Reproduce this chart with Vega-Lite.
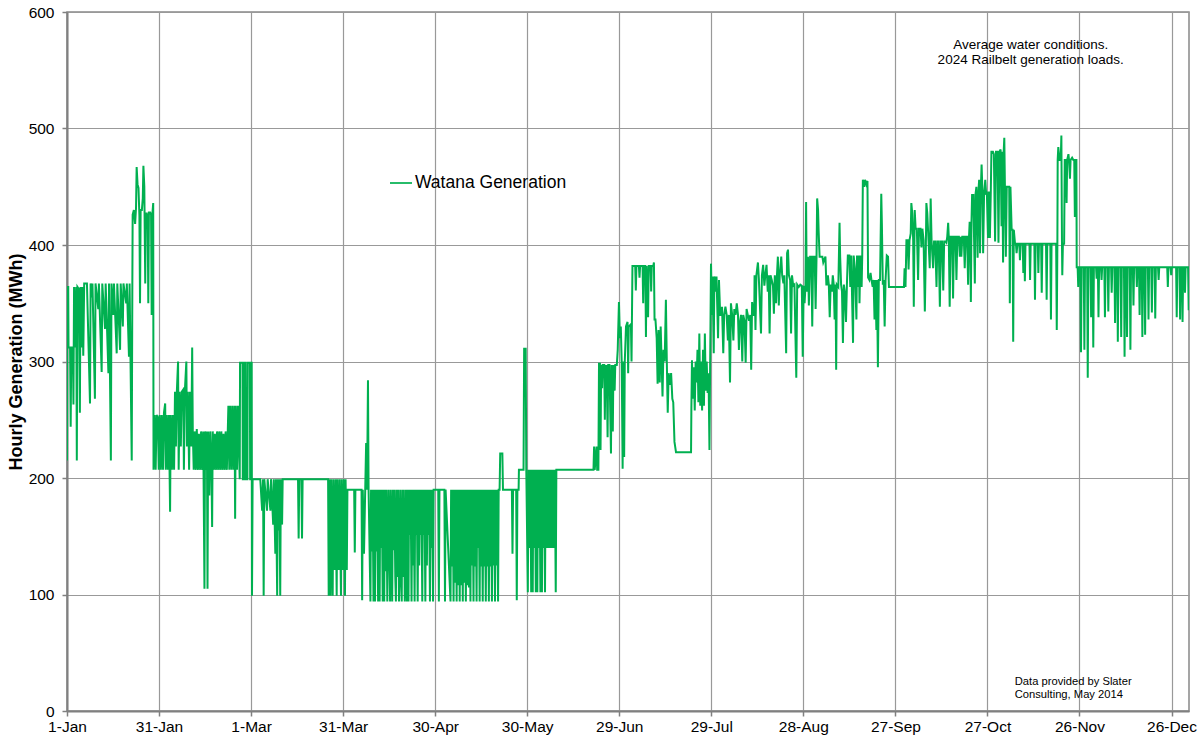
{
  "$schema": "https://vega.github.io/schema/vega-lite/v6.json",
  "width": 1122,
  "height": 699,
  "autosize": {"type": "none"},
  "padding": {"left": 67, "top": 12, "right": 15, "bottom": 33},
  "background": "white",
  "config": {"font": "Liberation Sans", "view": {"stroke": "#888888", "strokeWidth": 1.5}},
  "layer": [
    {
      "data": {"values": [
{"day":0,"mwh":215},{"day":0.1,"mwh":364},{"day":0.4,"mwh":364},{"day":0.5,"mwh":312},{"day":1.0,"mwh":312},{"day":1.2,"mwh":244},{"day":1.4,"mwh":312},{"day":1.9,"mwh":312},{"day":2.1,"mwh":263},{"day":2.3,"mwh":364},{"day":2.5,"mwh":312},{"day":3.0,"mwh":364},{"day":3.2,"mwh":215},{"day":3.4,"mwh":364},{"day":3.9,"mwh":362},{"day":4.2,"mwh":256},{"day":4.4,"mwh":364},{"day":4.8,"mwh":312},{"day":5.0,"mwh":364},{"day":5.3,"mwh":305},{"day":5.6,"mwh":367},
{"day":6.5,"mwh":367},{"day":7.5,"mwh":264},{"day":7.7,"mwh":367},{"day":8.1,"mwh":355},{"day":8.3,"mwh":367},{"day":9.1,"mwh":268},{"day":9.3,"mwh":367},{"day":10.2,"mwh":345},{"day":10.4,"mwh":367},{"day":11.3,"mwh":291},{"day":11.5,"mwh":367},{"day":12.4,"mwh":328},{"day":12.6,"mwh":367},{"day":13.5,"mwh":290},{"day":13.7,"mwh":367},{"day":14.3,"mwh":215},{"day":14.5,"mwh":367},{"day":15.1,"mwh":340},{"day":15.3,"mwh":367},{"day":16.2,"mwh":307},{"day":16.4,"mwh":367},{"day":17.3,"mwh":310},{"day":17.5,"mwh":367},{"day":18.2,"mwh":330},{"day":18.4,"mwh":367},{"day":19.3,"mwh":350},{"day":19.5,"mwh":367},{"day":20.2,"mwh":304},{"day":20.4,"mwh":367},{"day":21.1,"mwh":215},{"day":21.3,"mwh":367},
{"day":21.4,"mwh":426},{"day":21.8,"mwh":430},{"day":22.2,"mwh":418},{"day":22.5,"mwh":432},{"day":22.7,"mwh":467},{"day":23.0,"mwh":452},{"day":23.3,"mwh":449},{"day":23.6,"mwh":425},{"day":23.8,"mwh":350},{"day":24.0,"mwh":430},{"day":24.4,"mwh":430},{"day":24.7,"mwh":440},{"day":24.9,"mwh":468},{"day":25.2,"mwh":450},{"day":25.5,"mwh":367},{"day":25.7,"mwh":427},{"day":26.0,"mwh":427},{"day":26.3,"mwh":420},{"day":26.5,"mwh":350},{"day":26.7,"mwh":428},{"day":27.1,"mwh":428},{"day":27.4,"mwh":426},{"day":27.6,"mwh":340},{"day":27.8,"mwh":426},{"day":28.1,"mwh":436},{"day":28.2,"mwh":207},
{"day":28.5,"mwh":254},{"day":28.9,"mwh":207},{"day":29.2,"mwh":254},{"day":29.6,"mwh":252},{"day":29.9,"mwh":207},{"day":30.2,"mwh":254},{"day":30.6,"mwh":207},{"day":30.9,"mwh":254},{"day":31.3,"mwh":207},{"day":31.6,"mwh":256},{"day":32.0,"mwh":264},{"day":32.2,"mwh":207},{"day":32.5,"mwh":254},{"day":32.9,"mwh":207},{"day":33.2,"mwh":254},{"day":33.6,"mwh":171},{"day":33.8,"mwh":254},{"day":34.2,"mwh":207},{"day":34.5,"mwh":254},{"day":34.9,"mwh":207},{"day":35.2,"mwh":274},{"day":35.5,"mwh":227},{"day":35.8,"mwh":274},{"day":36.2,"mwh":300},{"day":36.4,"mwh":207},{"day":36.7,"mwh":274},{"day":37.1,"mwh":227},{"day":37.4,"mwh":274},{"day":37.9,"mwh":276},{"day":38.1,"mwh":207},{"day":38.4,"mwh":274},{"day":38.9,"mwh":300},{"day":39.1,"mwh":227},{"day":39.4,"mwh":274},{"day":39.8,"mwh":207},{"day":40.1,"mwh":274},{"day":40.5,"mwh":227},{"day":40.8,"mwh":312},{"day":41.0,"mwh":240},{"day":41.3,"mwh":207},{"day":41.6,"mwh":240},{"day":42.0,"mwh":207},{"day":42.3,"mwh":242},{"day":42.7,"mwh":207},{"day":43.0,"mwh":238},{"day":43.4,"mwh":207},{"day":43.7,"mwh":240},{"day":44.1,"mwh":207},{"day":44.4,"mwh":240},{"day":44.8,"mwh":105},{"day":45.0,"mwh":240},{"day":45.4,"mwh":207},{"day":45.6,"mwh":240},{"day":45.8,"mwh":105},{"day":46.0,"mwh":240},{"day":46.4,"mwh":185},{"day":46.7,"mwh":240},{"day":47.1,"mwh":207},{"day":47.3,"mwh":158},{"day":47.5,"mwh":240},{"day":47.9,"mwh":207},{"day":48.2,"mwh":238},{"day":48.6,"mwh":207},{"day":48.9,"mwh":240},{"day":49.3,"mwh":207},{"day":49.6,"mwh":240},{"day":50.0,"mwh":207},{"day":50.3,"mwh":240},{"day":50.7,"mwh":207},{"day":51.0,"mwh":238},{"day":51.4,"mwh":207},{"day":51.7,"mwh":240},{"day":52.1,"mwh":207},{"day":52.4,"mwh":240},{"day":52.6,"mwh":262},{"day":52.9,"mwh":207},{"day":53.2,"mwh":262},{"day":53.6,"mwh":207},{"day":53.9,"mwh":262},{"day":54.3,"mwh":207},{"day":54.6,"mwh":262},{"day":54.8,"mwh":165},{"day":55.0,"mwh":262},{"day":55.4,"mwh":207},{"day":55.7,"mwh":262},{"day":56.0,"mwh":230},{"day":56.3,"mwh":199},{"day":56.4,"mwh":299},{"day":57.2,"mwh":299},{"day":57.3,"mwh":199},{"day":57.7,"mwh":199},{"day":57.8,"mwh":299},{"day":58.2,"mwh":299},{"day":58.3,"mwh":199},{"day":58.8,"mwh":199},{"day":58.9,"mwh":299},{"day":59.6,"mwh":299},{"day":59.7,"mwh":199},{"day":60.0,"mwh":199},{"day":60.1,"mwh":299},{"day":60.2,"mwh":299},
{"day":60.3,"mwh":99},{"day":60.5,"mwh":199},{"day":63.0,"mwh":199},{"day":63.6,"mwh":172},{"day":63.9,"mwh":199},{"day":64.1,"mwh":99},{"day":64.3,"mwh":199},{"day":65.2,"mwh":172},{"day":65.4,"mwh":199},{"day":66.3,"mwh":172},{"day":66.5,"mwh":199},{"day":67.0,"mwh":172},{"day":67.2,"mwh":160},{"day":67.4,"mwh":199},{"day":67.9,"mwh":135},{"day":68.1,"mwh":199},{"day":68.5,"mwh":99},{"day":68.7,"mwh":199},{"day":69.0,"mwh":155},{"day":69.2,"mwh":199},{"day":69.5,"mwh":99},{"day":69.7,"mwh":199},{"day":70.1,"mwh":160},{"day":70.3,"mwh":199},{"day":75.3,"mwh":199},{"day":75.5,"mwh":148},{"day":75.7,"mwh":199},{"day":76.4,"mwh":199},{"day":76.6,"mwh":148},{"day":76.8,"mwh":199},{"day":85.1,"mwh":199},{"day":85.3,"mwh":99},{"day":85.5,"mwh":199},{"day":85.9,"mwh":99},{"day":86.1,"mwh":199},{"day":86.6,"mwh":99},{"day":86.8,"mwh":199},{"day":87.3,"mwh":121},{"day":87.5,"mwh":199},{"day":87.9,"mwh":99},{"day":88.1,"mwh":199},{"day":88.6,"mwh":121},{"day":88.8,"mwh":199},{"day":89.3,"mwh":99},{"day":89.5,"mwh":199},{"day":90.0,"mwh":121},{"day":90.2,"mwh":199},{"day":90.6,"mwh":99},{"day":90.8,"mwh":199},{"day":91.2,"mwh":121},{"day":91.4,"mwh":190},
{"day":93.6,"mwh":190},{"day":93.8,"mwh":136},{"day":94.0,"mwh":190},{"day":96.0,"mwh":190},{"day":96.2,"mwh":95},{"day":96.4,"mwh":190},{"day":96.8,"mwh":135},{"day":97.2,"mwh":190},{"day":97.5,"mwh":230},{"day":97.8,"mwh":190},{"day":98.1,"mwh":284},{"day":98.3,"mwh":190},
{"day":98.9,"mwh":94},{"day":99.1,"mwh":190},{"day":99.4,"mwh":137},{"day":99.6,"mwh":190},{"day":99.9,"mwh":94},{"day":100.1,"mwh":190},{"day":100.4,"mwh":94},{"day":100.6,"mwh":190},{"day":100.9,"mwh":137},{"day":101.1,"mwh":190},{"day":101.4,"mwh":94},{"day":101.6,"mwh":190},{"day":101.9,"mwh":94},{"day":102.1,"mwh":190},{"day":102.4,"mwh":140},{"day":102.6,"mwh":190},{"day":102.9,"mwh":94},{"day":103.1,"mwh":190},{"day":103.4,"mwh":94},{"day":103.6,"mwh":190},{"day":103.9,"mwh":120},{"day":104.1,"mwh":190},
{"day":104.4,"mwh":94},{"day":104.6,"mwh":138},{"day":104.8,"mwh":190},{"day":105.1,"mwh":138},{"day":105.3,"mwh":94},{"day":105.5,"mwh":190},{"day":105.8,"mwh":138},{"day":106.0,"mwh":94},{"day":106.2,"mwh":190},{"day":106.5,"mwh":138},{"day":106.7,"mwh":190},{"day":107.0,"mwh":115},{"day":107.2,"mwh":94},{"day":107.4,"mwh":190},{"day":107.7,"mwh":115},{"day":107.9,"mwh":190},{"day":108.2,"mwh":94},{"day":108.4,"mwh":115},{"day":108.6,"mwh":190},{"day":108.9,"mwh":115},{"day":109.1,"mwh":94},{"day":109.3,"mwh":190},{"day":109.6,"mwh":115},{"day":109.8,"mwh":190},{"day":110.1,"mwh":94},{"day":110.3,"mwh":115},{"day":110.5,"mwh":190},{"day":110.8,"mwh":94},{"day":111.0,"mwh":190},
{"day":111.3,"mwh":94},{"day":111.5,"mwh":190},{"day":111.8,"mwh":151},{"day":112.0,"mwh":190},{"day":112.3,"mwh":94},{"day":112.5,"mwh":190},{"day":112.8,"mwh":125},{"day":113.0,"mwh":190},{"day":113.3,"mwh":94},{"day":113.5,"mwh":190},{"day":113.8,"mwh":151},{"day":114.0,"mwh":190},{"day":114.3,"mwh":94},{"day":114.5,"mwh":190},{"day":114.8,"mwh":125},{"day":115.0,"mwh":190},{"day":115.3,"mwh":151},{"day":115.5,"mwh":190},{"day":115.8,"mwh":94},{"day":116.0,"mwh":190},{"day":116.3,"mwh":151},{"day":116.5,"mwh":190},{"day":116.8,"mwh":94},{"day":117.0,"mwh":190},{"day":117.3,"mwh":125},{"day":117.5,"mwh":190},{"day":117.8,"mwh":151},{"day":118.0,"mwh":190},{"day":118.3,"mwh":94},{"day":118.5,"mwh":190},{"day":118.8,"mwh":140},{"day":119.0,"mwh":190},{"day":119.3,"mwh":94},{"day":119.5,"mwh":190},
{"day":121.0,"mwh":190},{"day":121.2,"mwh":94},{"day":121.4,"mwh":190},{"day":123.0,"mwh":190},{"day":123.2,"mwh":94},{"day":123.4,"mwh":190},
{"day":125.0,"mwh":94},{"day":125.2,"mwh":190},{"day":125.5,"mwh":124},{"day":125.7,"mwh":190},{"day":126.0,"mwh":94},{"day":126.2,"mwh":190},{"day":126.5,"mwh":110},{"day":126.7,"mwh":190},{"day":127.0,"mwh":94},{"day":127.2,"mwh":190},{"day":127.5,"mwh":108},{"day":127.7,"mwh":190},{"day":128.0,"mwh":94},{"day":128.2,"mwh":190},{"day":128.5,"mwh":108},{"day":128.7,"mwh":190},{"day":129.0,"mwh":94},{"day":129.2,"mwh":190},{"day":129.5,"mwh":110},{"day":129.7,"mwh":190},{"day":130.0,"mwh":94},{"day":130.2,"mwh":190},{"day":130.5,"mwh":108},{"day":130.7,"mwh":190},{"day":131.0,"mwh":106},{"day":131.2,"mwh":190},{"day":131.5,"mwh":94},{"day":131.7,"mwh":190},{"day":132.0,"mwh":125},{"day":132.2,"mwh":190},{"day":132.5,"mwh":94},{"day":132.7,"mwh":190},{"day":133.0,"mwh":124},{"day":133.2,"mwh":190},{"day":133.5,"mwh":94},{"day":133.7,"mwh":190},{"day":134.0,"mwh":140},{"day":134.2,"mwh":190},{"day":134.5,"mwh":94},{"day":134.7,"mwh":190},{"day":135.0,"mwh":124},{"day":135.2,"mwh":190},{"day":135.5,"mwh":94},{"day":135.7,"mwh":190},{"day":136.0,"mwh":124},{"day":136.2,"mwh":190},{"day":136.5,"mwh":94},{"day":136.7,"mwh":190},{"day":137.0,"mwh":124},{"day":137.2,"mwh":190},{"day":137.5,"mwh":94},{"day":137.7,"mwh":190},{"day":138.0,"mwh":124},{"day":138.2,"mwh":190},{"day":138.5,"mwh":94},{"day":138.7,"mwh":190},{"day":139.0,"mwh":125},{"day":139.2,"mwh":190},{"day":139.5,"mwh":94},{"day":139.7,"mwh":190},{"day":140.0,"mwh":125},{"day":140.2,"mwh":190},{"day":140.5,"mwh":94},{"day":140.7,"mwh":190},{"day":141.0,"mwh":190},
{"day":141.2,"mwh":221},{"day":141.9,"mwh":221},{"day":142.1,"mwh":190},{"day":145.0,"mwh":190},{"day":145.2,"mwh":135},{"day":145.4,"mwh":190},{"day":146.4,"mwh":190},{"day":146.6,"mwh":95},{"day":146.8,"mwh":190},{"day":147.2,"mwh":190},{"day":147.3,"mwh":207},{"day":148.8,"mwh":207},{"day":149.0,"mwh":311},{"day":149.5,"mwh":311},{"day":149.7,"mwh":207},
{"day":150.2,"mwh":102},{"day":150.4,"mwh":207},{"day":150.8,"mwh":140},{"day":151.0,"mwh":207},{"day":151.3,"mwh":102},{"day":151.5,"mwh":207},{"day":151.8,"mwh":102},{"day":152.0,"mwh":207},{"day":152.3,"mwh":140},{"day":152.5,"mwh":207},{"day":152.8,"mwh":102},{"day":153.0,"mwh":207},{"day":153.3,"mwh":102},{"day":153.5,"mwh":207},{"day":153.8,"mwh":140},{"day":154.0,"mwh":207},{"day":154.3,"mwh":102},{"day":154.5,"mwh":207},{"day":154.8,"mwh":102},{"day":155.0,"mwh":207},{"day":155.3,"mwh":140},{"day":155.5,"mwh":207},{"day":155.8,"mwh":102},{"day":156.0,"mwh":207},{"day":156.3,"mwh":140},{"day":156.5,"mwh":207},{"day":156.8,"mwh":140},{"day":157.0,"mwh":207},{"day":157.3,"mwh":140},{"day":157.5,"mwh":207},{"day":157.8,"mwh":140},{"day":158.0,"mwh":207},{"day":158.3,"mwh":140},{"day":158.5,"mwh":207},{"day":158.8,"mwh":140},{"day":159.0,"mwh":207},{"day":159.3,"mwh":102},{"day":159.5,"mwh":207},
{"day":171.6,"mwh":207},{"day":171.8,"mwh":227},{"day":172.0,"mwh":207},{"day":172.6,"mwh":227},{"day":172.8,"mwh":207},{"day":173.2,"mwh":207},{"day":173.4,"mwh":299},
{"day":173.5,"mwh":281},{"day":173.7,"mwh":299},{"day":173.9,"mwh":224},{"day":174.1,"mwh":297},{"day":174.4,"mwh":277},{"day":174.6,"mwh":297},{"day":175.1,"mwh":297},{"day":175.3,"mwh":250},{"day":175.5,"mwh":297},{"day":175.6,"mwh":277},{"day":175.9,"mwh":297},{"day":176.2,"mwh":235},{"day":176.4,"mwh":297},{"day":176.8,"mwh":297},{"day":177.3,"mwh":221},{"day":177.5,"mwh":297},{"day":177.9,"mwh":240},{"day":178.1,"mwh":297},{"day":178.5,"mwh":275},{"day":178.7,"mwh":297},{"day":179.2,"mwh":297},{"day":179.5,"mwh":310},{"day":179.9,"mwh":351},{"day":180.2,"mwh":320},{"day":180.5,"mwh":330},{"day":180.8,"mwh":300},{"day":181.1,"mwh":208},{"day":181.3,"mwh":300},{"day":181.6,"mwh":218},{"day":181.8,"mwh":300},{"day":182.2,"mwh":330},{"day":182.7,"mwh":334},{"day":182.9,"mwh":290},{"day":183.1,"mwh":330},{"day":183.8,"mwh":332},{"day":184.0,"mwh":300},{"day":184.3,"mwh":382},
{"day":184.6,"mwh":382},{"day":185.2,"mwh":382},{"day":185.4,"mwh":361},{"day":185.6,"mwh":382},{"day":186.4,"mwh":382},{"day":186.6,"mwh":372},{"day":186.8,"mwh":382},{"day":187.6,"mwh":382},{"day":187.8,"mwh":350},{"day":188.0,"mwh":382},{"day":188.5,"mwh":382},{"day":188.7,"mwh":321},{"day":188.9,"mwh":382},{"day":189.4,"mwh":338},{"day":189.6,"mwh":382},{"day":190.2,"mwh":382},{"day":190.4,"mwh":360},{"day":190.6,"mwh":382},{"day":191.1,"mwh":382},{"day":191.3,"mwh":385},{"day":191.5,"mwh":336},
{"day":191.8,"mwh":336},{"day":192.2,"mwh":320},{"day":192.5,"mwh":281},{"day":192.8,"mwh":327},{"day":193.2,"mwh":282},{"day":193.5,"mwh":330},{"day":193.8,"mwh":300},{"day":194.1,"mwh":270},{"day":194.4,"mwh":310},{"day":194.8,"mwh":300},{"day":195.2,"mwh":353},{"day":195.5,"mwh":300},{"day":195.8,"mwh":256},{"day":196.1,"mwh":290},{"day":196.5,"mwh":280},{"day":196.9,"mwh":290},{"day":197.3,"mwh":268},{"day":197.6,"mwh":265},{"day":198.0,"mwh":231},{"day":198.5,"mwh":222},{"day":203.4,"mwh":222},
{"day":203.5,"mwh":258},{"day":203.7,"mwh":301},{"day":204.0,"mwh":268},{"day":204.3,"mwh":295},{"day":204.6,"mwh":258},{"day":204.9,"mwh":300},{"day":205.2,"mwh":282},{"day":205.5,"mwh":310},{"day":205.8,"mwh":265},{"day":206.1,"mwh":324},{"day":206.4,"mwh":262},{"day":206.7,"mwh":300},{"day":207.0,"mwh":258},{"day":207.3,"mwh":310},{"day":207.6,"mwh":262},{"day":207.9,"mwh":324},{"day":208.2,"mwh":275},{"day":208.5,"mwh":300},{"day":208.8,"mwh":273},{"day":209.1,"mwh":290},{"day":209.4,"mwh":224},{"day":209.6,"mwh":290},{"day":209.9,"mwh":384},{"day":210.2,"mwh":340},{"day":210.4,"mwh":373},{"day":210.8,"mwh":307},{"day":211.0,"mwh":373},{"day":211.4,"mwh":360},{"day":211.7,"mwh":373},{"day":212.2,"mwh":320},{"day":212.5,"mwh":370},{"day":212.9,"mwh":340},
{"day":213.2,"mwh":340},{"day":213.5,"mwh":347},{"day":213.9,"mwh":307},{"day":214.2,"mwh":340},{"day":214.6,"mwh":347},{"day":215.0,"mwh":340},{"day":215.4,"mwh":318},{"day":215.7,"mwh":340},{"day":216.1,"mwh":282},{"day":216.4,"mwh":350},{"day":216.8,"mwh":340},{"day":217.2,"mwh":318},{"day":217.5,"mwh":345},{"day":217.9,"mwh":340},{"day":218.3,"mwh":350},{"day":218.7,"mwh":340},{"day":219.0,"mwh":310},{"day":219.3,"mwh":333},{"day":219.7,"mwh":340},{"day":220.1,"mwh":300},{"day":220.4,"mwh":340},{"day":220.8,"mwh":335},{"day":221.2,"mwh":299},{"day":221.5,"mwh":345},{"day":221.9,"mwh":340},{"day":222.3,"mwh":335},{"day":222.7,"mwh":340},{"day":223.0,"mwh":293},{"day":223.3,"mwh":351},{"day":223.7,"mwh":340},{"day":224.0,"mwh":340},
{"day":224.1,"mwh":374},{"day":224.4,"mwh":327},{"day":224.7,"mwh":374},{"day":225.2,"mwh":385},{"day":225.5,"mwh":371},{"day":226.2,"mwh":324},{"day":226.5,"mwh":374},{"day":226.9,"mwh":383},{"day":227.3,"mwh":365},{"day":227.6,"mwh":374},{"day":228.0,"mwh":383},{"day":228.4,"mwh":360},{"day":228.7,"mwh":374},{"day":229.0,"mwh":324},{"day":229.3,"mwh":374},{"day":229.7,"mwh":370},{"day":230.1,"mwh":365},{"day":230.4,"mwh":341},{"day":230.7,"mwh":374},{"day":231.1,"mwh":350},{"day":231.4,"mwh":374},{"day":231.7,"mwh":390},{"day":232.0,"mwh":348},{"day":232.3,"mwh":374},{"day":232.8,"mwh":390},{"day":233.1,"mwh":374},{"day":233.5,"mwh":367},{"day":233.8,"mwh":374},{"day":234.4,"mwh":307},{"day":234.7,"mwh":393},{"day":235.0,"mwh":396},{"day":235.3,"mwh":374},{"day":235.7,"mwh":370},{"day":236.0,"mwh":324},{"day":236.3,"mwh":374},{"day":236.7,"mwh":365},{"day":237.1,"mwh":366},{"day":237.7,"mwh":286},{"day":238.0,"mwh":366},{"day":238.5,"mwh":364},{"day":239.0,"mwh":366},
{"day":239.5,"mwh":365},{"day":239.8,"mwh":304},{"day":240.1,"mwh":365},{"day":240.4,"mwh":350},{"day":240.7,"mwh":365},{"day":240.9,"mwh":437},{"day":241.1,"mwh":360},{"day":241.5,"mwh":390},{"day":241.8,"mwh":348},{"day":242.2,"mwh":390},{"day":242.6,"mwh":390},{"day":242.9,"mwh":330},{"day":243.2,"mwh":390},{"day":243.7,"mwh":390},{"day":244.0,"mwh":345},{"day":244.3,"mwh":390},{"day":244.5,"mwh":440},{"day":244.8,"mwh":430},{"day":245.0,"mwh":411},{"day":245.3,"mwh":390},{"day":246.2,"mwh":390},{"day":246.5,"mwh":385},{"day":247.2,"mwh":390},{"day":247.5,"mwh":366},
{"day":247.8,"mwh":366},{"day":248.0,"mwh":374},{"day":248.3,"mwh":366},{"day":248.6,"mwh":338},{"day":248.9,"mwh":366},{"day":249.3,"mwh":360},{"day":249.6,"mwh":374},{"day":249.9,"mwh":366},{"day":250.2,"mwh":336},{"day":250.5,"mwh":366},{"day":250.7,"mwh":293},{"day":250.9,"mwh":366},{"day":251.4,"mwh":364},{"day":251.8,"mwh":419},{"day":252.0,"mwh":390},{"day":252.3,"mwh":366},{"day":252.6,"mwh":360},{"day":252.9,"mwh":316},{"day":253.2,"mwh":366},{"day":253.5,"mwh":360},{"day":253.9,"mwh":334},{"day":254.2,"mwh":366},{"day":254.5,"mwh":391},{"day":255.0,"mwh":391},{"day":255.3,"mwh":364},{"day":255.6,"mwh":391},{"day":256.2,"mwh":316},{"day":256.4,"mwh":391},{"day":256.8,"mwh":380},{"day":257.3,"mwh":336},{"day":257.5,"mwh":391},{"day":257.9,"mwh":364},{"day":258.1,"mwh":391},{"day":258.3,"mwh":350},{"day":258.6,"mwh":391},{"day":259.0,"mwh":364},{"day":259.2,"mwh":391},{"day":259.4,"mwh":456},{"day":259.8,"mwh":450},{"day":260.1,"mwh":456},{"day":260.5,"mwh":452},{"day":260.9,"mwh":455},{"day":261.1,"mwh":372},
{"day":261.5,"mwh":370},{"day":261.9,"mwh":376},{"day":262.2,"mwh":370},{"day":262.6,"mwh":364},{"day":262.9,"mwh":370},{"day":263.2,"mwh":336},{"day":263.5,"mwh":370},{"day":263.8,"mwh":327},{"day":264.0,"mwh":370},{"day":264.3,"mwh":295},{"day":264.6,"mwh":370},{"day":265.0,"mwh":370},{"day":265.4,"mwh":444},{"day":265.6,"mwh":418},{"day":265.9,"mwh":366},{"day":266.2,"mwh":370},{"day":266.5,"mwh":330},{"day":266.8,"mwh":370},{"day":267.2,"mwh":391},{"day":267.6,"mwh":390},{"day":267.9,"mwh":364},{"day":272.8,"mwh":364},
{"day":273.0,"mwh":380},{"day":273.3,"mwh":364},{"day":273.6,"mwh":404},{"day":274.0,"mwh":404},{"day":274.3,"mwh":379},{"day":274.6,"mwh":404},{"day":275.0,"mwh":410},{"day":275.2,"mwh":436},{"day":275.5,"mwh":427},{"day":275.8,"mwh":404},{"day":276.0,"mwh":347},{"day":276.3,"mwh":430},{"day":276.6,"mwh":414},{"day":277.0,"mwh":414},{"day":277.4,"mwh":370},{"day":277.7,"mwh":414},{"day":278.2,"mwh":414},{"day":278.5,"mwh":398},{"day":278.8,"mwh":414},{"day":279.2,"mwh":404},{"day":279.6,"mwh":343},{"day":279.9,"mwh":391},{"day":280.1,"mwh":436},{"day":280.4,"mwh":427},{"day":280.8,"mwh":404},{"day":281.2,"mwh":380},{"day":281.5,"mwh":440},{"day":281.8,"mwh":403},{"day":282.3,"mwh":380},{"day":282.6,"mwh":403},{"day":283.0,"mwh":403},{"day":283.4,"mwh":364},{"day":283.7,"mwh":403},{"day":284.1,"mwh":403},{"day":284.5,"mwh":347},{"day":284.8,"mwh":403},{"day":285.2,"mwh":403},{"day":285.6,"mwh":361},{"day":285.9,"mwh":403},{"day":286.3,"mwh":403},{"day":286.6,"mwh":402},
{"day":286.9,"mwh":407},{"day":287.2,"mwh":419},{"day":287.4,"mwh":407},{"day":287.7,"mwh":347},{"day":288.0,"mwh":407},{"day":288.5,"mwh":407},{"day":288.8,"mwh":354},{"day":289.1,"mwh":407},{"day":289.6,"mwh":407},{"day":289.9,"mwh":370},{"day":290.2,"mwh":407},{"day":290.7,"mwh":407},{"day":291.0,"mwh":390},{"day":291.3,"mwh":407},{"day":291.5,"mwh":390},{"day":291.8,"mwh":407},{"day":292.3,"mwh":407},{"day":292.6,"mwh":380},{"day":292.9,"mwh":407},{"day":293.4,"mwh":407},{"day":293.7,"mwh":366},{"day":294.0,"mwh":407},{"day":294.2,"mwh":419},{"day":294.4,"mwh":419},{"day":294.6,"mwh":351},{"day":294.8,"mwh":419},{"day":295.0,"mwh":443},{"day":295.4,"mwh":443},{"day":295.9,"mwh":367},{"day":296.1,"mwh":443},{"day":296.4,"mwh":450},{"day":296.8,"mwh":389},{"day":297.0,"mwh":443},{"day":297.3,"mwh":456},{"day":297.6,"mwh":393},{"day":297.8,"mwh":443},{"day":298.1,"mwh":469},{"day":298.4,"mwh":443},{"day":298.6,"mwh":393},{"day":298.9,"mwh":443},{"day":299.3,"mwh":456},{"day":299.6,"mwh":443},{"day":299.8,"mwh":446},{"day":300.2,"mwh":406},{"day":300.5,"mwh":446},{"day":300.8,"mwh":406},{"day":301.1,"mwh":446},{"day":301.3,"mwh":480},{"day":301.8,"mwh":480},{"day":302.1,"mwh":478},{"day":302.5,"mwh":403},{"day":302.8,"mwh":480},{"day":303.3,"mwh":480},{"day":303.6,"mwh":402},{"day":303.9,"mwh":480},{"day":304.3,"mwh":482},{"day":304.6,"mwh":416},{"day":304.8,"mwh":480},{"day":305.1,"mwh":385},{"day":305.3,"mwh":480},{"day":305.5,"mwh":492},{"day":305.7,"mwh":450},{"day":306.0,"mwh":390},{"day":306.3,"mwh":450},{"day":306.8,"mwh":450},{"day":307.1,"mwh":450},{"day":307.3,"mwh":350},{"day":307.5,"mwh":450},{"day":307.9,"mwh":413},{"day":308.2,"mwh":413},{"day":308.4,"mwh":317},{"day":308.6,"mwh":413},{"day":309.0,"mwh":401},
{"day":309.3,"mwh":401},{"day":309.5,"mwh":393},{"day":309.8,"mwh":401},{"day":310.4,"mwh":401},{"day":310.6,"mwh":387},{"day":310.8,"mwh":401},{"day":311.5,"mwh":401},{"day":311.7,"mwh":376},{"day":311.9,"mwh":401},{"day":312.0,"mwh":401},{"day":312.2,"mwh":369},{"day":312.4,"mwh":401},{"day":313.7,"mwh":401},{"day":313.9,"mwh":370},{"day":314.1,"mwh":401},{"day":315.3,"mwh":401},{"day":315.5,"mwh":353},{"day":315.7,"mwh":401},{"day":316.4,"mwh":401},{"day":316.6,"mwh":376},{"day":316.8,"mwh":401},{"day":317.5,"mwh":401},{"day":317.7,"mwh":359},{"day":317.9,"mwh":401},{"day":319.1,"mwh":401},{"day":319.3,"mwh":353},{"day":319.5,"mwh":401},{"day":320.5,"mwh":401},{"day":320.7,"mwh":336},{"day":320.9,"mwh":401},{"day":322.4,"mwh":401},{"day":322.6,"mwh":327},{"day":322.8,"mwh":401},
{"day":322.9,"mwh":473},{"day":323.1,"mwh":484},{"day":323.5,"mwh":473},{"day":323.9,"mwh":473},{"day":324.1,"mwh":494},{"day":324.3,"mwh":401},{"day":324.4,"mwh":374},{"day":324.6,"mwh":401},{"day":325.0,"mwh":401},{"day":325.2,"mwh":473},{"day":325.6,"mwh":473},{"day":325.8,"mwh":436},{"day":326.0,"mwh":473},{"day":326.4,"mwh":478},{"day":326.6,"mwh":473},{"day":326.9,"mwh":457},{"day":327.1,"mwh":473},{"day":327.6,"mwh":475},{"day":328.0,"mwh":473},{"day":328.3,"mwh":473},{"day":328.5,"mwh":424},{"day":328.7,"mwh":473},{"day":329.0,"mwh":473},{"day":329.1,"mwh":381},
{"day":329.4,"mwh":381},{"day":329.6,"mwh":364},{"day":329.8,"mwh":381},{"day":330.3,"mwh":381},{"day":330.5,"mwh":308},{"day":330.7,"mwh":381},{"day":331.4,"mwh":381},{"day":331.6,"mwh":310},{"day":331.8,"mwh":381},{"day":332.5,"mwh":381},{"day":332.7,"mwh":286},{"day":332.9,"mwh":381},{"day":333.6,"mwh":381},{"day":333.8,"mwh":338},{"day":334.0,"mwh":381},{"day":334.3,"mwh":381},{"day":334.5,"mwh":312},{"day":334.7,"mwh":381},{"day":335.4,"mwh":381},{"day":335.6,"mwh":371},{"day":335.8,"mwh":381},{"day":336.0,"mwh":381},{"day":336.2,"mwh":338},{"day":336.4,"mwh":381},{"day":337.0,"mwh":381},{"day":337.2,"mwh":370},{"day":337.4,"mwh":381},{"day":338.1,"mwh":381},{"day":338.3,"mwh":338},{"day":338.5,"mwh":381},{"day":339.2,"mwh":381},{"day":339.4,"mwh":343},{"day":339.6,"mwh":381},{"day":340.3,"mwh":381},{"day":340.5,"mwh":359},{"day":340.7,"mwh":381},{"day":341.4,"mwh":381},{"day":341.6,"mwh":333},{"day":341.8,"mwh":381},{"day":342.3,"mwh":381},{"day":342.5,"mwh":317},{"day":342.7,"mwh":381},{"day":343.4,"mwh":381},{"day":343.6,"mwh":321},{"day":343.8,"mwh":381},{"day":344.5,"mwh":381},{"day":344.7,"mwh":304},{"day":344.9,"mwh":381},{"day":345.3,"mwh":381},{"day":345.5,"mwh":321},{"day":345.7,"mwh":381},{"day":346.4,"mwh":381},{"day":346.6,"mwh":310},{"day":346.8,"mwh":381},{"day":347.4,"mwh":381},{"day":347.6,"mwh":348},{"day":347.8,"mwh":381},{"day":348.5,"mwh":381},{"day":348.7,"mwh":364},{"day":348.9,"mwh":381},{"day":349.4,"mwh":381},{"day":349.6,"mwh":340},{"day":349.8,"mwh":381},{"day":350.3,"mwh":381},{"day":350.5,"mwh":321},{"day":350.7,"mwh":381},{"day":351.2,"mwh":381},{"day":351.4,"mwh":323},{"day":351.6,"mwh":381},{"day":352.3,"mwh":381},{"day":352.5,"mwh":336},{"day":352.7,"mwh":381},{"day":353.4,"mwh":381},{"day":353.6,"mwh":342},{"day":353.8,"mwh":381},{"day":354.5,"mwh":381},{"day":354.7,"mwh":337},{"day":354.9,"mwh":381},{"day":355.6,"mwh":381},{"day":355.8,"mwh":370},{"day":356.0,"mwh":381},{"day":358.6,"mwh":381},{"day":358.8,"mwh":364},{"day":359.0,"mwh":381},{"day":359.7,"mwh":381},{"day":359.9,"mwh":374},{"day":360.1,"mwh":381},{"day":361.5,"mwh":381},{"day":361.7,"mwh":338},{"day":361.9,"mwh":381},{"day":362.6,"mwh":381},{"day":362.8,"mwh":336},{"day":363.0,"mwh":381},{"day":363.4,"mwh":381},{"day":363.6,"mwh":334},{"day":363.8,"mwh":381},{"day":364.2,"mwh":381},{"day":364.4,"mwh":359},{"day":364.6,"mwh":381},{"day":365.4,"mwh":381},{"day":365.6,"mwh":344},{"day":365.7,"mwh":381}
      ]},
      "mark": {"type": "line", "strokeWidth": 2, "interpolate": "linear", "clip": true},
      "encoding": {
        "x": {
          "field": "day", "type": "quantitative",
          "scale": {"domain": [0, 365.7], "nice": false, "zero": false},
          "axis": {
            "values": [0, 30, 60, 90, 120, 150, 180, 210, 240, 270, 300, 330, 360],
            "labelExpr": "timeFormat(datetime(2024, 0, 1 + datum.value), '%-d-%b')",
            "title": null, "grid": true, "gridColor": "#999999", "gridWidth": 1.2,
            "domainColor": "#808080", "domainWidth": 2,
            "tickColor": "#808080", "tickSize": 5, "tickWidth": 1.5,
            "labelFontSize": 15.5, "labelColor": "#000000", "labelPadding": 3,
            "labelFlush": false, "labelOverlap": false
          }
        },
        "y": {
          "field": "mwh", "type": "quantitative",
          "scale": {"domain": [0, 600], "nice": false},
          "axis": {
            "values": [0, 100, 200, 300, 400, 500, 600],
            "title": "Hourly Generation (MWh)", "titleFontSize": 18, "titleFontWeight": "bold",
            "titleColor": "#000000", "titlePadding": 3,
            "grid": true, "gridColor": "#999999", "gridWidth": 1.2,
            "domainColor": "#808080", "domainWidth": 2,
            "tickColor": "#808080", "tickSize": 5, "tickWidth": 1.5,
            "labelFontSize": 15.5, "labelColor": "#000000", "labelPadding": 8
          }
        },
        "color": {
          "datum": "Watana Generation", "type": "nominal",
          "scale": {"range": ["#00B050"]},
          "legend": {
            "orient": "none", "legendX": 322, "legendY": 159, "title": null,
            "symbolType": "stroke", "symbolSize": 484, "symbolStrokeWidth": 1.7,
            "labelFontSize": 17.5, "labelColor": "#000000", "labelOffset": 2, "padding": 0
          }
        }
      }
    },
    {
      "data": {"values": [{"note": "Average water conditions."}]},
      "mark": {"type": "text", "fontSize": 13.5, "align": "center", "baseline": "middle", "color": "#000000"},
      "encoding": {"x": {"datum": 314.1, "type": "quantitative"}, "y": {"datum": 571.7, "type": "quantitative"}, "text": {"field": "note"}}
    },
    {
      "data": {"values": [{"note": "2024 Railbelt generation loads."}]},
      "mark": {"type": "text", "fontSize": 13.5, "align": "center", "baseline": "middle", "color": "#000000"},
      "encoding": {"x": {"datum": 314.1, "type": "quantitative"}, "y": {"datum": 558.8, "type": "quantitative"}, "text": {"field": "note"}}
    },
    {
      "data": {"values": [{"note": "Data provided by Slater"}]},
      "mark": {"type": "text", "fontSize": 11.2, "align": "left", "baseline": "middle", "color": "#000000"},
      "encoding": {"x": {"datum": 308.9, "type": "quantitative"}, "y": {"datum": 25.3, "type": "quantitative"}, "text": {"field": "note"}}
    },
    {
      "data": {"values": [{"note": "Consulting, May 2014"}]},
      "mark": {"type": "text", "fontSize": 11.2, "align": "left", "baseline": "middle", "color": "#000000"},
      "encoding": {"x": {"datum": 308.9, "type": "quantitative"}, "y": {"datum": 13.4, "type": "quantitative"}, "text": {"field": "note"}}
    }
  ]
}
